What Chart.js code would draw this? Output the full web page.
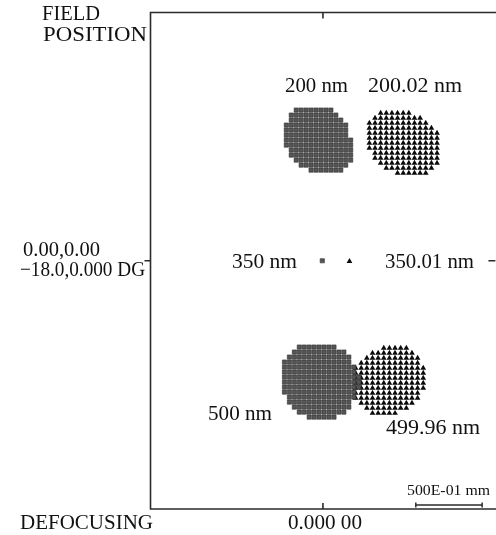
<!DOCTYPE html>
<html>
<head>
<meta charset="utf-8">
<script src="https://cdn.jsdelivr.net/npm/chart.js@4/dist/chart.umd.min.js"></script>
<style>
  html, body { margin: 0; padding: 0; background: #fff; overflow: hidden; }
  #wrap { width: 500px; height: 535px; }
</style>
</head>
<body>
<div id="wrap"><canvas id="spot" width="500" height="535"></canvas></div>
<script>
// --- DADOS (µm, centro do campo = 0,0) ---
const wavelengths = ['200 nm', '200.02 nm', '350 nm', '350.01 nm', '500 nm', '499.96 nm'];

// mapas de ocupação: '#' = raio que chega ao plano
const sq200Mask = [
    '  ########',
    ' ##########',
    ' ###########',
    '#############',
    '#############',
    '#############',
    '##############',
    '##############',
    ' #############',
    ' #############',
    '  ############',
    '   ##########',
    '     #######'
];
const tri200Mask = [
    '  ######',
    ' #########',
    '###########',
    '############',
    '#############',
    '#############',
    '#############',
    '#############',
    ' ############',
    ' ############',
    '  ###########',
    '   #########',
    '     ######'
];
const sq500Mask = [
    '   ########',
    '  ###########',
    ' #############',
    '##############',
    '###############',
    '###############',
    '################',
    '################',
    '################',
    '###############',
    ' ##############',
    ' #############',
    '  ############',
    '   ##########',
    '     ######'
];
const tri500Mask = [
    '     #####',
    '   ########',
    '  ##########',
    ' ###########',
    '#############',
    '#############',
    '#############',
    '#############',
    '#############',
    '############',
    '############',
    ' ##########',
    '  ########',
    '   #####'
];
// canto superior esquerdo de cada mapa e passo da grade (µm)
const maskOrigins = { sq200: [-27.6, 112.3], tri200: [35.0, 110.1], sq500: [-29.0, -64.3], tri500: [24.6, -65.1] };
const maskSteps = { sq: [3.73, 3.73], tri: [4.25, 3.73] };
// foco em 350 nm: um único ponto por comprimento de onda
const sq350 = [{ x: -0.5, y: 0 }];
const tri350 = [{ x: 20, y: -0.5 }];

// --- CONVERSÃO ---
function maskToPoints(mask, origin, step) {
    const pts = [];
    mask.forEach((row, r) => {
        for (let c = 0; c < row.length; c++) {
            if (row[c] === '#') pts.push({ x: origin[0] + c * step[0], y: origin[1] - r * step[1] });
        }
    });
    return pts;
}

const squareStyle = { pointStyle: 'rect', pointRadius: 3, backgroundColor: '#555', borderColor: '#333', borderWidth: 0.6 };
const triangleStyle = { pointStyle: 'triangle', pointRadius: 3.3, backgroundColor: '#0a0a0a', borderColor: '#0a0a0a', borderWidth: 0 };

// --- TEXTOS (px da tela: borda esquerda, centro vertical, largura) ---
const serif = '"Liberation Serif", "Times New Roman", serif';
const textos = [
    { t: 'FIELD', x: 42, y: 14, w: 58, s: 21 },
    { t: 'POSITION', x: 43, y: 35, w: 104, s: 21 },
    { t: '0.00,0.00', x: 23, y: 250, w: 77, s: 21 },
    { t: '\u221218.0,0.000 DG', x: 20, y: 270, w: 125, s: 21 },
    { t: 'DEFOCUSING', x: 20, y: 523, w: 133, s: 21 },
    { t: '0.000 00', x: 288, y: 523, w: 74, s: 21 },
    { t: wavelengths[0], x: 285, y: 86, w: 63, s: 21 },
    { t: wavelengths[1], x: 368, y: 86, w: 94, s: 21 },
    { t: wavelengths[2], x: 232, y: 262, w: 65, s: 21 },
    { t: wavelengths[3], x: 385, y: 262, w: 89, s: 21 },
    { t: wavelengths[4], x: 208, y: 414, w: 64, s: 21 },
    { t: wavelengths[5], x: 386, y: 428, w: 94, s: 21 },
    { t: '500E-01 mm', x: 407, y: 491, w: 83, s: 15 }
];

const moldura = {
    id: 'moldura',
    afterDraw(chart) {
        const { ctx, chartArea: a, scales } = chart;
        const cx = scales.x.getPixelForValue(0);
        const cy = scales.y.getPixelForValue(0);
        ctx.save();
        ctx.strokeStyle = '#2b2b2b';
        ctx.lineWidth = 1.6;
        ctx.beginPath();
        ctx.moveTo(a.right + 2, a.top); ctx.lineTo(a.left, a.top);
        ctx.lineTo(a.left, a.bottom); ctx.lineTo(a.right + 2, a.bottom);
        // marcas do centro
        ctx.moveTo(cx, a.top); ctx.lineTo(cx, a.top + 6);
        ctx.moveTo(cx, a.bottom); ctx.lineTo(cx, a.bottom - 6);
        ctx.moveTo(a.left, cy); ctx.lineTo(a.left - 6, cy);
        ctx.moveTo(a.right, cy); ctx.lineTo(a.right - 7, cy);
        ctx.stroke();
        // barra de escala: 50 µm
        const x0 = scales.x.getPixelForValue(70);
        const x1 = scales.x.getPixelForValue(120);
        const yb = a.bottom - 4;
        ctx.lineWidth = 1.5;
        ctx.beginPath();
        ctx.moveTo(x0, yb); ctx.lineTo(x1, yb);
        ctx.moveTo(x0, yb - 2.5); ctx.lineTo(x0, yb + 2.5);
        ctx.moveTo(x1, yb - 2.5); ctx.lineTo(x1, yb + 2.5);
        ctx.stroke();
        // textos esticados até a largura medida na figura
        ctx.fillStyle = '#111';
        ctx.textBaseline = 'middle';
        ctx.textAlign = 'left';
        textos.forEach(t => {
            ctx.font = `${t.s}px ${serif}`;
            const k = t.w / ctx.measureText(t.t).width;
            ctx.save();
            ctx.translate(t.x, t.y);
            ctx.scale(k, 1);
            ctx.fillText(t.t, 0, 0);
            ctx.restore();
        });
        ctx.restore();
    }
};

new Chart(document.getElementById('spot'), {
    type: 'scatter',
    data: {
        datasets: [
            { label: wavelengths[0], data: maskToPoints(sq200Mask, maskOrigins.sq200, maskSteps.sq), ...squareStyle },
            { label: wavelengths[1], data: maskToPoints(tri200Mask, maskOrigins.tri200, maskSteps.tri), ...triangleStyle },
            { label: wavelengths[2], data: sq350, ...squareStyle },
            { label: wavelengths[3], data: tri350, ...triangleStyle },
            { label: wavelengths[4], data: maskToPoints(sq500Mask, maskOrigins.sq500, maskSteps.sq), ...squareStyle },
            { label: wavelengths[5], data: maskToPoints(tri500Mask, maskOrigins.tri500, maskSteps.tri), ...triangleStyle }
        ]
    },
    options: {
        responsive: false,
        animation: false,
        layout: { padding: { left: 150.5, top: 12.5, right: 0.5, bottom: 26 } },
        scales: {
            x: { type: 'linear', min: -130, max: 130, display: false },
            y: { type: 'linear', min: -185, max: 185, display: false }
        },
        plugins: { legend: { display: false }, tooltip: { enabled: false } }
    },
    plugins: [moldura]
});
</script>
</body>
</html>
